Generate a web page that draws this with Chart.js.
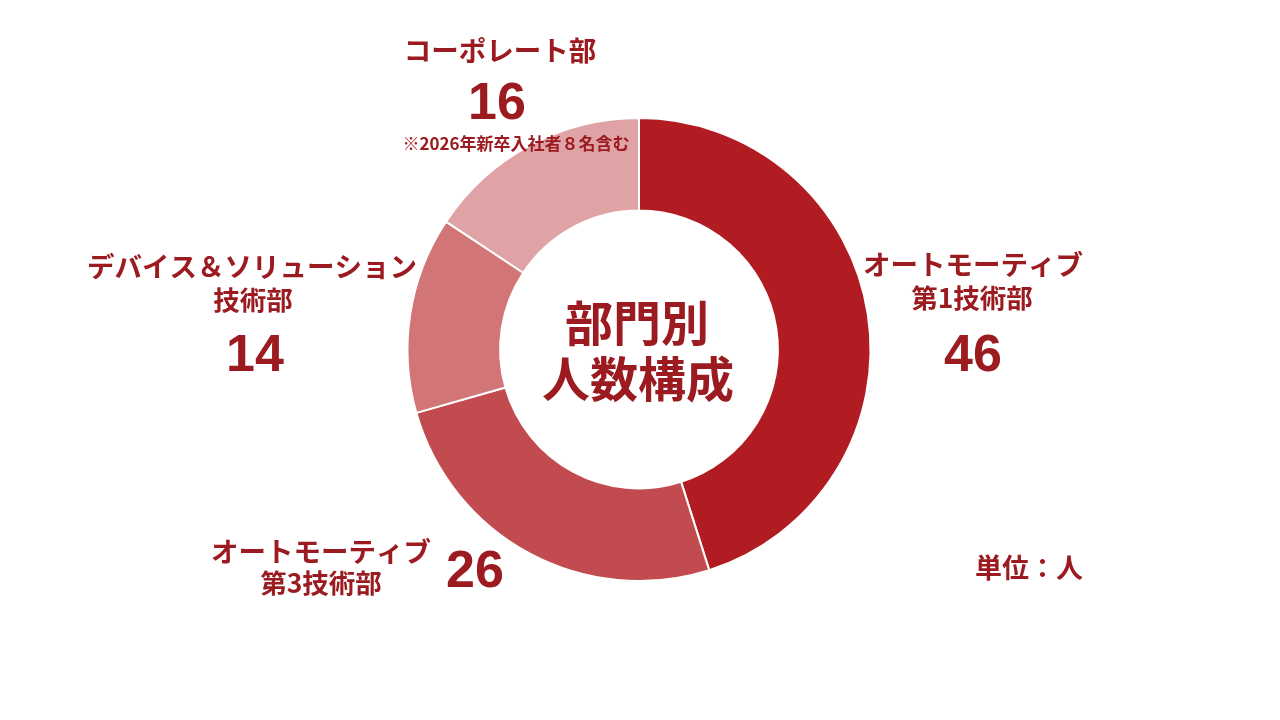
<!DOCTYPE html>
<html lang="ja">
<head>
<meta charset="utf-8">
<title>部門別人数構成</title>
<script src="https://cdn.jsdelivr.net/npm/chart.js@4/dist/chart.umd.min.js"></script>
<style>
    html, body { margin: 0; padding: 0; background: #ffffff; }
    #chart { display: block; }
</style>
</head>
<body>
<canvas id="chart" width="1280" height="720"></canvas>
<script>
const departments = ['オートモーティブ第1技術部', 'オートモーティブ第3技術部', 'デバイス＆ソリューション技術部', 'コーポレート部'];
const headcounts = [46, 26, 14, 16];
const sliceColors = ['#b01c22', '#c24b50', '#d17577', '#e0a3a5'];
const centerTitle = ['部門別', '人数構成'];
const footnote = '※2026年新卒入社者８名含む';
const unitLabel = '単位：人';

const TEXT_COLOR = '#9b1b20';
const JP = '"Noto Sans CJK JP", "Noto Sans", sans-serif';
const NUM = '"Liberation Sans", Arial, sans-serif';

function put(ctx, text, x, y, size, family) {
    ctx.font = 'bold ' + size + 'px ' + family;
    ctx.fillText(text, x, y);
}

const labelPlugin = {
    id: 'labels',
    afterDraw(chart) {
        const ctx = chart.ctx;
        const arc = chart.getDatasetMeta(0).data[0];
        const cx = arc.x;
        const cy = arc.y;
        ctx.save();
        ctx.fillStyle = TEXT_COLOR;
        ctx.textAlign = 'center';
        ctx.textBaseline = 'middle';

        // center title
        put(ctx, centerTitle[0], cx - 2, cy - 27, 48, JP);
        put(ctx, centerTitle[1], cx - 1, cy + 29, 48, JP);

        // オートモーティブ第1技術部
        put(ctx, 'オートモーティブ', 973, 265, 27.5, JP);
        put(ctx, '第1技術部', 972, 298, 26.5, JP);
        put(ctx, String(headcounts[0]), 973, 357, 52, NUM);

        // オートモーティブ第3技術部
        put(ctx, 'オートモーティブ', 321, 552, 27.5, JP);
        put(ctx, '第3技術部', 321, 583, 26.5, JP);
        put(ctx, String(headcounts[1]), 475, 573, 52, NUM);

        // デバイス＆ソリューション技術部
        put(ctx, 'デバイス＆ソリューション', 252, 267, 27.5, JP);
        put(ctx, '技術部', 253, 300, 26.5, JP);
        put(ctx, String(headcounts[2]), 255, 357, 52, NUM);

        // コーポレート部
        put(ctx, 'コーポレート部', 500, 51, 27.5, JP);
        put(ctx, String(headcounts[3]), 497, 105, 52, NUM);
        put(ctx, footnote, 516, 144, 17, JP);

        put(ctx, unitLabel, 1029, 568, 27, JP);
        ctx.restore();
    }
};

new Chart(document.getElementById('chart'), { // eslint-disable-line
    type: 'doughnut',
    data: {
        labels: departments,
        datasets: [{
            data: headcounts,
            backgroundColor: sliceColors,
            borderColor: '#ffffff',
            borderWidth: 2
        }]
    },
    options: {
        responsive: false,
        animation: false,
        cutout: '60%',
        layout: {
            padding: { top: 117, bottom: 138, left: 0, right: 2 }
        },
        plugins: {
            legend: { display: false },
            tooltip: { enabled: false }
        }
    },
    plugins: [labelPlugin]
});
</script>
</body>
</html>
